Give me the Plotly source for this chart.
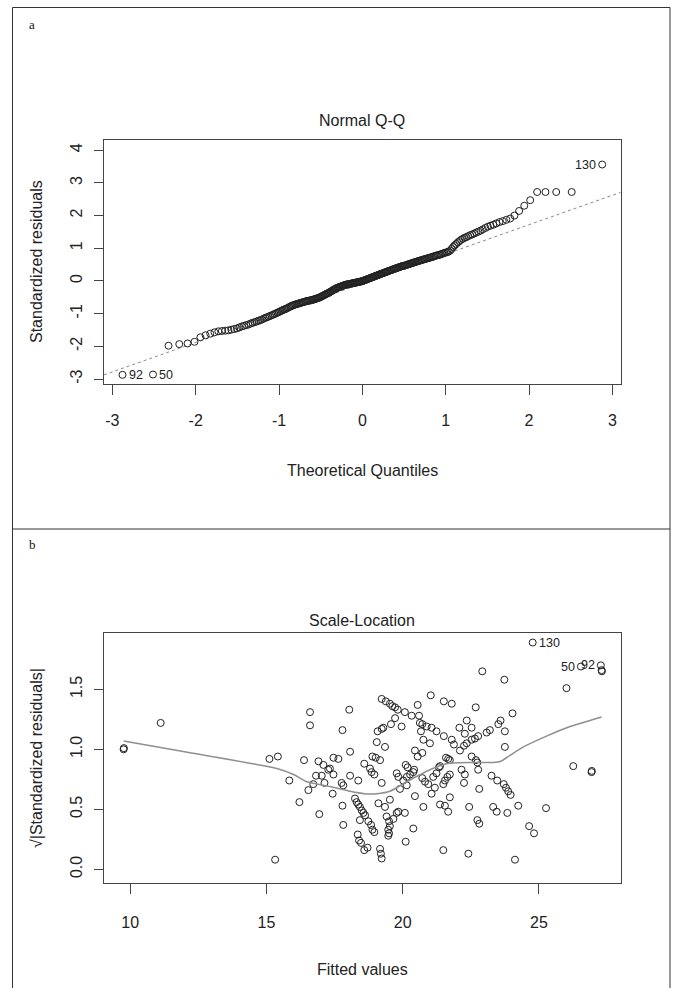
import plotly.graph_objects as go

# ---------------- data: panel a (Normal Q-Q) ----------------
qq_theoretical = [
    -2.878, -2.512, -2.326, -2.197, -2.097, -2.014, -1.943, -1.881, -1.825, -1.774,
    -1.728, -1.685, -1.645, -1.607, -1.572, -1.538, -1.506, -1.476, -1.446, -1.419,
    -1.392, -1.366, -1.341, -1.317, -1.293, -1.270, -1.248, -1.227, -1.206, -1.185,
    -1.165, -1.146, -1.126, -1.108, -1.089, -1.071, -1.054, -1.036, -1.019, -1.003,
    -0.986, -0.970, -0.954, -0.938, -0.923, -0.908, -0.893, -0.878, -0.863, -0.849,
    -0.834, -0.820, -0.806, -0.793, -0.779, -0.765, -0.752, -0.739, -0.726, -0.713,
    -0.700, -0.687, -0.674, -0.662, -0.649, -0.637, -0.624, -0.613, -0.601, -0.589,
    -0.577, -0.565, -0.553, -0.542, -0.530, -0.519, -0.507, -0.496, -0.485, -0.473,
    -0.462, -0.451, -0.440, -0.429, -0.418, -0.407, -0.396, -0.385, -0.375, -0.364,
    -0.353, -0.343, -0.332, -0.321, -0.311, -0.300, -0.290, -0.279, -0.269, -0.259,
    -0.248, -0.238, -0.228, -0.217, -0.207, -0.197, -0.187, -0.176, -0.166, -0.156,
    -0.146, -0.136, -0.126, -0.116, -0.106, -0.095, -0.085, -0.075, -0.065, -0.055,
    -0.045, -0.035, -0.025, -0.015, -0.005,
    0.005, 0.015, 0.025, 0.035, 0.045, 0.055, 0.065, 0.075, 0.085, 0.095,
    0.106, 0.116, 0.126, 0.136, 0.146, 0.156, 0.166, 0.176, 0.187, 0.197,
    0.207, 0.217, 0.228, 0.238, 0.248, 0.259, 0.269, 0.279, 0.290, 0.300,
    0.311, 0.321, 0.332, 0.343, 0.353, 0.364, 0.375, 0.385, 0.396, 0.407,
    0.418, 0.429, 0.440, 0.451, 0.462, 0.473, 0.485, 0.496, 0.507, 0.519,
    0.530, 0.542, 0.553, 0.565, 0.577, 0.589, 0.601, 0.613, 0.624, 0.637,
    0.649, 0.662, 0.674, 0.687, 0.700, 0.713, 0.726, 0.739, 0.752, 0.765,
    0.779, 0.793, 0.806, 0.820, 0.834, 0.849, 0.863, 0.878, 0.893, 0.908,
    0.923, 0.938, 0.954, 0.970, 0.986, 1.003, 1.019, 1.036, 1.054, 1.071,
    1.089, 1.108, 1.126, 1.146, 1.165, 1.185, 1.206, 1.227, 1.248, 1.270,
    1.293, 1.317, 1.341, 1.366, 1.392, 1.419, 1.446, 1.476, 1.506, 1.538,
    1.572, 1.607, 1.645, 1.685, 1.728, 1.774, 1.825, 1.881, 1.943, 2.014,
    2.097, 2.197, 2.326, 2.512, 2.878,
]
qq_std_resid = [
    -2.87, -2.86, -1.98, -1.93, -1.91, -1.86, -1.72, -1.66, -1.61, -1.57,
    -1.54, -1.53, -1.52, -1.51, -1.49, -1.47, -1.45, -1.42, -1.39, -1.37,
    -1.35, -1.33, -1.30, -1.28, -1.26, -1.24, -1.22, -1.20, -1.18, -1.15,
    -1.13, -1.11, -1.09, -1.07, -1.05, -1.03, -1.01, -0.99, -0.97, -0.95,
    -0.93, -0.91, -0.89, -0.87, -0.86, -0.84, -0.82, -0.80, -0.78, -0.76,
    -0.75, -0.73, -0.72, -0.71, -0.70, -0.69, -0.68, -0.67, -0.66, -0.65,
    -0.64, -0.63, -0.62, -0.61, -0.61, -0.60, -0.59, -0.59, -0.58, -0.57,
    -0.56, -0.55, -0.54, -0.53, -0.52, -0.51, -0.50, -0.48, -0.47, -0.45,
    -0.44, -0.42, -0.41, -0.39, -0.38, -0.37, -0.35, -0.33, -0.32, -0.30,
    -0.28, -0.27, -0.25, -0.24, -0.22, -0.21, -0.20, -0.19, -0.18, -0.17,
    -0.16, -0.15, -0.14, -0.13, -0.12, -0.11, -0.11, -0.10, -0.10, -0.09,
    -0.09, -0.08, -0.08, -0.07, -0.06, -0.06, -0.05, -0.05, -0.04, -0.04,
    -0.03, -0.03, -0.02, -0.01, -0.01,
    0.00, 0.01, 0.02, 0.03, 0.04, 0.05, 0.06, 0.07, 0.08, 0.09,
    0.10, 0.11, 0.12, 0.13, 0.14, 0.15, 0.16, 0.17, 0.18, 0.19,
    0.20, 0.21, 0.22, 0.23, 0.24, 0.25, 0.26, 0.27, 0.28, 0.29,
    0.30, 0.31, 0.32, 0.33, 0.34, 0.35, 0.36, 0.37, 0.38, 0.39,
    0.40, 0.41, 0.42, 0.43, 0.44, 0.45, 0.46, 0.46, 0.47, 0.48,
    0.49, 0.50, 0.51, 0.52, 0.53, 0.54, 0.55, 0.56, 0.57, 0.58,
    0.59, 0.60, 0.61, 0.62, 0.63, 0.64, 0.65, 0.66, 0.67, 0.68,
    0.69, 0.70, 0.71, 0.72, 0.73, 0.74, 0.76, 0.77, 0.78, 0.79,
    0.80, 0.81, 0.83, 0.84, 0.86, 0.87, 0.88, 0.90, 0.93, 0.98,
    1.04, 1.09, 1.13, 1.18, 1.22, 1.26, 1.29, 1.32, 1.34, 1.37,
    1.40, 1.42, 1.45, 1.48, 1.51, 1.54, 1.58, 1.62, 1.66, 1.69,
    1.72, 1.76, 1.80, 1.83, 1.87, 1.91, 2.00, 2.14, 2.30, 2.47,
    2.72, 2.72, 2.72, 2.72, 3.56,
]
qq_line_x = [-3.10, 3.10]
qq_line_y = [-2.87, 2.71]
qq_labels = {0: "92", 1: "50", 249: "130"}   # index -> observation id
qq_ticks_x = [-3, -2, -1, 0, 1, 2, 3]
qq_ticktext_x = ["-3", "-2", "-1", "0", "1", "2", "3"]
qq_ticks_y = [-3, -2, -1, 0, 1, 2, 3, 4]
qq_ticktext_y = ["-3", "-2", "-1", "0", "1", "2", "3", "4"]

# ---------------- data: panel b (Scale-Location) ----------------
sl_fitted = [
    9.76, 9.77, 11.12,
    16.60, 16.60, 15.11, 15.42, 15.84, 16.21, 15.32, 16.38, 16.91, 17.09,
    17.33, 17.46, 16.82, 17.03, 17.27, 17.46, 16.72, 16.54, 17.13, 17.43, 16.94,
    18.04, 19.23, 19.38, 19.53, 19.62, 19.72, 19.82, 20.08, 20.33, 20.55,
    21.03, 20.60, 20.63, 20.72, 20.88, 21.06, 21.24, 19.72, 19.57, 19.29,
    19.23, 19.08, 19.96, 17.79, 19.05, 19.35, 20.67, 20.76, 21.00, 18.07,
    17.64, 18.89, 19.01, 19.17, 20.45, 20.72, 20.55, 18.59, 18.80, 18.86,
    18.96, 20.11, 20.18, 18.07, 18.37, 17.76, 17.82, 19.23, 19.78, 19.84,
    20.02, 20.15, 20.27, 20.39, 20.42, 19.90, 20.15, 20.45, 20.72, 20.82,
    20.94, 21.06, 21.12, 21.24, 21.33, 21.18, 20.76, 17.79, 17.82, 18.25,
    18.31, 18.37, 18.43, 18.50, 18.56, 18.62, 18.43, 18.74, 18.84, 18.89,
    18.96, 18.35, 18.40, 18.47, 18.59, 18.71, 19.17, 19.20, 19.23, 19.11,
    19.35, 19.53, 19.41, 19.50, 19.53, 19.47, 19.50, 19.47, 19.66, 19.78,
    19.84, 20.08, 20.39, 20.11,
    24.77, 22.92, 23.73, 21.51, 21.80, 22.68, 24.03, 22.35, 22.53, 22.08,
    22.28, 23.59, 23.51, 23.20, 23.08, 23.75, 22.77, 22.65, 22.53, 22.35,
    22.25, 21.51, 21.80, 21.88, 22.10, 23.75, 22.53, 22.69, 22.74, 22.77,
    21.59, 21.67, 21.73, 21.37, 22.16, 22.28, 21.73, 21.64, 21.55, 21.49,
    22.25, 23.26, 23.47, 23.71, 23.79, 23.87, 23.96, 22.81, 21.73, 21.37,
    21.55, 21.67, 22.44, 23.32, 23.45, 23.84, 24.24, 25.26, 22.74, 22.81,
    24.64, 24.82, 21.49, 22.41, 24.12,
    26.01, 26.54, 27.27, 27.30, 27.31, 26.26, 26.93, 26.94,
]
sl_sqrt_abs_resid = [
    1.00, 1.01, 1.22,
    1.31, 1.20, 0.92, 0.94, 0.74, 0.56, 0.08, 0.91, 0.90, 0.87,
    0.84, 0.93, 0.78, 0.78, 0.83, 0.79, 0.71, 0.66, 0.72, 0.63, 0.46,
    1.33, 1.42, 1.40, 1.38, 1.36, 1.35, 1.33, 1.31, 1.28, 1.37,
    1.45, 1.28, 1.22, 1.21, 1.19, 1.18, 1.15, 1.26, 1.21, 1.18,
    1.17, 1.15, 1.19, 1.16, 1.06, 1.02, 1.15, 1.08, 1.05, 0.98,
    0.92, 0.94, 0.93, 0.91, 0.99, 0.97, 0.94, 0.88, 0.84, 0.81,
    0.79, 0.87, 0.85, 0.78, 0.74, 0.72, 0.70, 0.72, 0.80, 0.77,
    0.74, 0.77, 0.79, 0.81, 0.83, 0.67, 0.70, 0.61, 0.76, 0.73,
    0.71, 0.63, 0.77, 0.80, 0.85, 0.68, 0.52, 0.53, 0.37, 0.59,
    0.56, 0.54, 0.52, 0.49, 0.47, 0.45, 0.41, 0.40, 0.37, 0.33,
    0.31, 0.29, 0.24, 0.22, 0.16, 0.18, 0.17, 0.13, 0.09, 0.55,
    0.52, 0.58, 0.44, 0.40, 0.36, 0.33, 0.30, 0.28, 0.42, 0.47,
    0.48, 0.47, 0.34, 0.23,
    1.89, 1.65, 1.58, 1.40, 1.38, 1.35, 1.30, 1.24, 1.18, 1.18,
    1.13, 1.24, 1.21, 1.16, 1.14, 1.15, 1.11, 1.09, 1.08, 1.05,
    1.03, 1.11, 1.08, 1.04, 0.99, 1.02, 0.94, 0.91, 0.89, 0.83,
    0.93, 0.92, 0.91, 0.86, 0.83, 0.79, 0.79, 0.77, 0.74, 0.71,
    0.72, 0.78, 0.74, 0.71, 0.68, 0.65, 0.62, 0.67, 0.60, 0.54,
    0.53, 0.48, 0.52, 0.52, 0.48, 0.47, 0.53, 0.51, 0.41, 0.38,
    0.36, 0.30, 0.16, 0.13, 0.08,
    1.51, 1.69, 1.70, 1.66, 1.65, 0.86, 0.81, 0.82,
]
sl_smooth_x = [9.76, 12.0, 15.38, 16.0, 16.48, 17.33, 18.07, 18.6, 19.05, 19.53, 20.15,
               21.0, 21.61, 22.47, 23.32, 23.6, 23.94, 24.43, 25.28, 26.14, 27.30]
sl_smooth_y = [1.07, 0.98, 0.84, 0.79, 0.73, 0.69, 0.65, 0.63, 0.63, 0.65, 0.73,
               0.83, 0.88, 0.89, 0.89, 0.90, 0.95, 1.02, 1.11, 1.19, 1.27]
sl_labels_right = {128: "130"}
sl_labels_left = {194: "50", 195: "92"}
sl_ticks_x = [10, 15, 20, 25]
sl_ticktext_x = ["10", "15", "20", "25"]
sl_ticks_y = [0.0, 0.5, 1.0, 1.5]
sl_ticktext_y = ["0.0", "0.5", "1.0", "1.5"]

titles = ["Normal Q-Q", "Scale-Location"]
xlabels = ["Theoretical Quantiles", "Fitted values"]
ylabels = ["Standardized residuals", "\u221a|Standardized residuals|"]
panel_tags = ["a", "b"]

# ---------------- layout geometry (pixels) ----------------
W, H = 674, 988
def fx(p):
    return p / W
def fy(p):
    return 1 - p / H

SANS = "Liberation Sans, Arial, sans-serif"
SERIF = "Liberation Serif, Times New Roman, serif"
INK = "#222222"
AX = "#444444"

fig = go.Figure()

marker = dict(symbol="circle-open", size=7, color=INK, line=dict(width=1, color=INK))

fig.add_trace(go.Scatter(x=qq_line_x, y=qq_line_y, mode="lines",
                         line=dict(color="#8a8a8a", width=1, dash="dot"),
                         xaxis="x", yaxis="y", hoverinfo="skip"))
fig.add_trace(go.Scatter(x=qq_theoretical, y=qq_std_resid, mode="markers",
                         marker=marker, xaxis="x", yaxis="y"))

fig.add_trace(go.Scatter(x=sl_fitted, y=sl_sqrt_abs_resid, mode="markers",
                         marker=marker, xaxis="x2", yaxis="y2"))
fig.add_trace(go.Scatter(x=sl_smooth_x, y=sl_smooth_y, mode="lines",
                         line=dict(color="#8f8f8f", width=1.5, shape="spline", smoothing=0.6),
                         xaxis="x2", yaxis="y2", hoverinfo="skip"))

axis_common = dict(showline=True, mirror=True, linecolor=AX, linewidth=1,
                   ticks="outside", ticklen=10, tickcolor=AX, tickwidth=1,
                   showgrid=False, zeroline=False, tickmode="array",
                   tickfont=dict(family=SANS, size=16, color=INK))

fig.update_layout(
    width=W, height=H, margin=dict(l=0, r=0, t=0, b=0),
    paper_bgcolor="white", plot_bgcolor="white", showlegend=False,
    xaxis=dict(axis_common, domain=[fx(104), fx(620.7)], range=[-3.10, 3.10],
               tickvals=qq_ticks_x, ticktext=qq_ticktext_x, anchor="y", ticklabelstandoff=12),
    yaxis=dict(axis_common, domain=[fy(384), fy(140)], range=[-3.15, 4.31],
               tickvals=qq_ticks_y, ticktext=qq_ticktext_y, anchor="x", tickangle=-90,
               ticklen=9, ticklabelstandoff=6),
    xaxis2=dict(axis_common, domain=[fx(104), fx(620.7)], range=[9.04, 28.0],
                tickvals=sl_ticks_x, ticktext=sl_ticktext_x, anchor="y2", ticklabelstandoff=15),
    yaxis2=dict(axis_common, domain=[fy(882.5), fy(633.3)], range=[-0.11, 1.967],
                tickvals=sl_ticks_y, ticktext=sl_ticktext_y, anchor="x2", tickangle=-90,
                ticklen=9, ticklabelstandoff=6),
)

ann = []
# titles
for t, ypx in zip(titles, [121, 620]):
    ann.append(dict(text=t, x=fx(362.3), y=fy(ypx), xref="paper", yref="paper",
                    xanchor="center", yanchor="middle", showarrow=False,
                    font=dict(family=SANS, size=16, color=INK)))
# x axis titles
for t, ypx in zip(xlabels, [471, 969]):
    ann.append(dict(text=t, x=fx(362.3), y=fy(ypx), xref="paper", yref="paper",
                    xanchor="center", yanchor="middle", showarrow=False,
                    font=dict(family=SANS, size=16, color=INK)))
# y axis titles
for t, ypx in zip(ylabels, [262, 758]):
    ann.append(dict(text=t, x=fx(36), y=fy(ypx), xref="paper", yref="paper",
                    xanchor="center", yanchor="middle", showarrow=False, textangle=-90,
                    font=dict(family=SANS, size=16, color=INK)))
# panel tags
for t, ypx in zip(panel_tags, [24, 544]):
    ann.append(dict(text=t, x=fx(32), y=fy(ypx), xref="paper", yref="paper",
                    xanchor="center", yanchor="middle", showarrow=False,
                    font=dict(family=SERIF, size=13, color="#111111")))
# point labels, panel a
for i, lab in qq_labels.items():
    right = qq_theoretical[i] < 0
    ann.append(dict(text=lab, x=qq_theoretical[i], y=qq_std_resid[i], xref="x", yref="y",
                    xanchor="left" if right else "right", yanchor="middle",
                    xshift=4 if right else -4, showarrow=False,
                    font=dict(family=SANS, size=12.5, color=INK)))
# point labels, panel b
for i, lab in sl_labels_right.items():
    ann.append(dict(text=lab, x=sl_fitted[i], y=sl_sqrt_abs_resid[i], xref="x2", yref="y2",
                    xanchor="left", yanchor="middle", xshift=4, showarrow=False,
                    font=dict(family=SANS, size=12.5, color=INK)))
for i, lab in sl_labels_left.items():
    ann.append(dict(text=lab, x=sl_fitted[i], y=sl_sqrt_abs_resid[i], xref="x2", yref="y2",
                    xanchor="right", yanchor="middle", xshift=-4, showarrow=False,
                    font=dict(family=SANS, size=12.5, color=INK)))
fig.update_layout(annotations=ann)

# outer frame and divider
frame = dict(color="#333333", width=1)
fig.update_layout(shapes=[
    dict(type="rect", xref="paper", yref="paper", x0=fx(12.5), x1=fx(670), y0=-0.02, y1=fy(7.5), line=frame),
    dict(type="line", xref="paper", yref="paper", x0=fx(12.5), x1=fx(670), y0=fy(529), y1=fy(529), line=frame),
])

fig.write_html("out.html", config={"displayModeBar": False},
               post_script="document.body.style.margin='0';document.body.style.overflow='hidden';")
